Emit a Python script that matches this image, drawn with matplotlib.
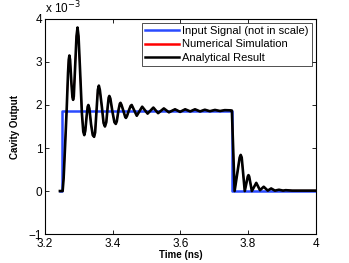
import matplotlib
matplotlib.use('Agg')
from matplotlib import pyplot as plt
from matplotlib.ticker import MultipleLocator
from matplotlib.lines import Line2D

plt.rcParams['font.family'] = ['Liberation Sans', 'DejaVu Sans']

# input signal (not in scale), values in units of 1e-3
input_t = [3.243, 3.25, 3.25, 3.752, 3.752, 4.0]
input_v = [0.0, 0.0, 1.87, 1.87, 0.0, 0.0]

# analytical result, points (units of 1e-3)
analytic_t = [3.244, 3.252, 3.255, 3.259, 3.264, 3.268, 3.270, 3.272, 3.274,
              3.278, 3.281, 3.283, 3.285, 3.289, 3.293, 3.296, 3.299, 3.303,
              3.309, 3.313, 3.316, 3.319, 3.323, 3.326, 3.328, 3.331, 3.336,
              3.341, 3.345, 3.348, 3.352, 3.356, 3.359, 3.362, 3.368, 3.373,
              3.377, 3.381, 3.385, 3.388, 3.390, 3.393, 3.399, 3.405, 3.409,
              3.412, 3.417, 3.421, 3.423, 3.426, 3.432, 3.437, 3.439, 3.442,
              3.448, 3.453, 3.456, 3.471, 3.487, 3.503, 3.520, 3.534, 3.551,
              3.566, 3.584, 3.599, 3.614, 3.629, 3.643, 3.658, 3.672, 3.687,
              3.702, 3.717, 3.731, 3.748, 3.752, 3.760, 3.775, 3.778, 3.781,
              3.790, 3.799, 3.801, 3.803, 3.811, 3.824, 3.835, 3.846, 3.858,
              3.868, 3.879, 3.891, 3.903, 3.911, 3.93, 4.0]
analytic_v = [0.0, 0.0, 0.3, 1.0, 1.9, 2.75, 3.05, 3.15, 3.05,
              2.5, 2.18, 2.12, 2.2, 2.9, 3.6, 3.80, 3.6, 2.9,
              1.8, 1.38, 1.30, 1.40, 1.75, 1.96, 2.00, 1.92, 1.55,
              1.30, 1.26, 1.36, 1.85, 2.35, 2.45, 2.35, 1.95, 1.58,
              1.50, 1.60, 1.95, 2.17, 2.21, 2.15, 1.85, 1.60, 1.56,
              1.62, 1.88, 2.03, 2.05, 2.00, 1.85, 1.72, 1.70, 1.74,
              1.88, 1.98, 2.00, 1.75, 1.96, 1.80, 1.94, 1.81, 1.92,
              1.83, 1.90, 1.84, 1.90, 1.85, 1.90, 1.85, 1.89, 1.855,
              1.885, 1.86, 1.88, 1.875, 1.87, 0.0, 0.78, 0.84, 0.78,
              0.0, 0.34, 0.37, 0.34, 0.0, 0.19, 0.02, 0.10, 0.01,
              0.06, 0.01, 0.03, 0.01, 0.02, 0.01, 0.01]

# numerical simulation lies on top of the analytical curve
numeric_t = analytic_t
numeric_v = analytic_v

fig = plt.figure(figsize=(3.49, 2.63), dpi=100)
ax = fig.add_axes([0.129, 0.110, 0.776, 0.818])

ax.plot(input_t, input_v, color='#2a4bff', lw=1.8)
# red is covered by the black curve, as in the original
ax.plot(numeric_t, numeric_v, color='red', lw=1.0)
ax.plot(analytic_t, analytic_v, color='black', lw=1.9, solid_joinstyle='round')

ax.set_xlim(3.2, 4.0)
ax.set_ylim(-1, 4)
ax.set_xticks([3.2, 3.4, 3.6, 3.8, 4.0])
ax.set_xticklabels(['3.2', '3.4', '3.6', '3.8', '4'])
ax.yaxis.set_major_locator(MultipleLocator(1))
ax.tick_params(direction='in', length=3, width=0.6, top=True, right=True,
               labelsize=8.5, pad=2)
ax.tick_params(axis='x', pad=3)
for s in ax.spines.values():
    s.set_linewidth(0.8)

ax.set_xlabel('Time (ns)', fontsize=7, fontweight='bold', labelpad=0)
ax.set_ylabel('Cavity Output', fontsize=7, fontweight='bold', labelpad=6)
ax.text(0.0, 1.01, r'x 10$^{-3}$', transform=ax.transAxes, fontsize=8.5,
        ha='left', va='bottom')

handles = [Line2D([], [], color='#2a4bff', lw=1.8),
           Line2D([], [], color='red', lw=1.8),
           Line2D([], [], color='black', lw=1.8)]
labels = ['Input Signal (not in scale)', 'Numerical Simulation', 'Analytical Result']
leg = ax.legend(handles, labels, loc='upper right', fontsize=8, frameon=True,
                fancybox=False, edgecolor='black', handlelength=3.0,
                handletextpad=0.3, borderpad=0.3, labelspacing=0.3,
                borderaxespad=0.35)
leg.get_frame().set_linewidth(0.6)

fig.savefig('out.png', dpi=100)
